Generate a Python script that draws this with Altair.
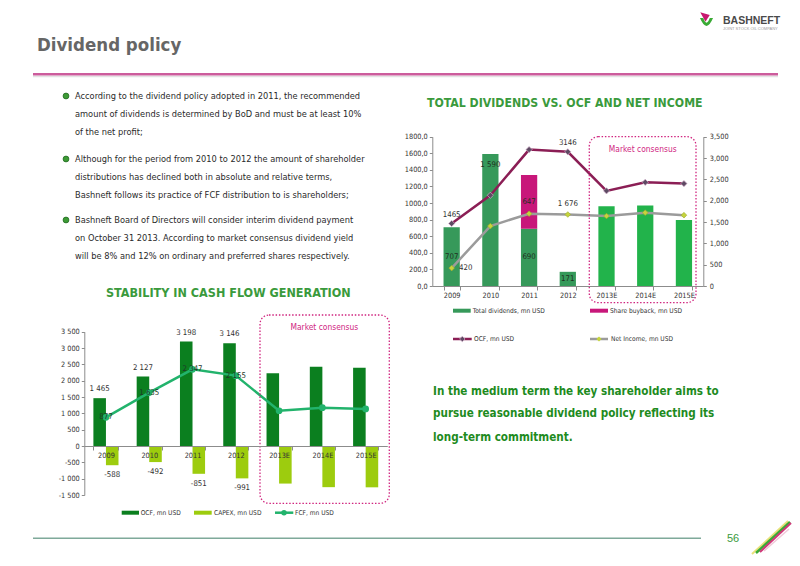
import altair as alt
import pandas as pd

# ---------------- data ----------------
years = ['2009', '2010', '2011', '2012', '2013E', '2014E', '2015E']
is_estimate = [False, False, False, False, True, True, True]

# Top chart: total dividends vs OCF and net income
total_dividends = [707, 1590, 690, 171, 960, 970, 795]
share_buyback = [0, 0, 647, 0, 0, 0, 0]
ocf_top = [1465, 2127, 3198, 3146, 2230, 2430, 2400]
net_income = [420, 1405, 1695, 1676, 1640, 1720, 1660]
div_labels = ['707', '1 590', '690', '171', '', '', '']
buy_labels = ['', '', '647', '', '', '', '']
ocf_top_labels = ['1465', '', '', '3146', '', '', '']
ni_labels = ['420', '', '', '1 676', '', '', '']

# Bottom chart: stability in cash flow generation
ocf = [1465, 2127, 3198, 3146, 2230, 2430, 2400]
capex = [-588, -492, -851, -991, -1150, -1260, -1265]
fcf = [877, 1635, 2347, 2155, 1080, 1175, 1135]
ocf_labels = ['1 465', '2 127', '3 198', '3 146', '', '', '']
capex_labels = ['-588', '-492', '-851', '-991', '', '', '']
fcf_labels = ['877', '1 635', '2 347', '2 155', '', '', '']

bullets = [
    ['According to the dividend policy adopted in 2011,  the recommended',
     'amount of dividends is determined by BoD and must be at least 10%',
     'of the net profit;'],
    ['Although for the period from 2010 to 2012 the amount of shareholder',
     'distributions has declined both in absolute and relative terms,',
     'Bashneft follows its practice of FCF distribution  to is shareholders;'],
    ['Bashneft Board of Directors will consider interim dividend payment',
     'on October 31 2013. According to market consensus dividend yield',
     'will be 8% and 12% on ordinary and preferred shares respectively.'],
]
conclusion = ['In the medium term the key shareholder aims to',
              'pursue reasonable dividend policy reflecting its',
              'long-term commitment.']

# ---------------- layout helpers ----------------
W, H = 784, 550
NARROW = 'Liberation Sans Narrow, Arial Narrow, DejaVu Sans Condensed, sans-serif'
GREEN_T = '#3a9a3c'
MAGENTA = '#d0257f'


def P(v):
    return v - 8


dummy = pd.DataFrame({'k': [0]})


def text_at(s, x, y, size=8, color='#333333', weight='normal', align='left',
            font=NARROW, baseline='middle'):
    return alt.Chart(dummy).mark_text(
        text=s, font=font, fontSize=size, fontWeight=weight, color=color,
        align=align, baseline=baseline
    ).encode(x=alt.value(P(x)), y=alt.value(P(y)))


def rule(x1, y1, x2, y2, color, width=1.0, **kw):
    return alt.Chart(dummy).mark_rule(color=color, strokeWidth=width, **kw).encode(
        x=alt.value(P(x1)), y=alt.value(P(y1)), x2=alt.value(P(x2)), y2=alt.value(P(y2)))


def rect(x1, y1, x2, y2, **kw):
    return alt.Chart(dummy).mark_rect(**kw).encode(
        x=alt.value(P(x1)), y=alt.value(P(y1)), x2=alt.value(P(x2)), y2=alt.value(P(y2)))


def pt(x, y, shape, size, fill, stroke=None, sw=0.0):
    kw = dict(shape=shape, size=size, fill=fill, filled=True, opacity=1)
    if stroke:
        kw.update(stroke=stroke, strokeWidth=sw)
    return alt.Chart(dummy).mark_point(**kw).encode(x=alt.value(P(x)), y=alt.value(P(y)))


AX = dict(domainColor='#8c8c8c', tickColor='#8c8c8c', labelColor='#333333',
          labelFont=NARROW, labelFontSize=7.3, title=None, grid=False)

# ---------------- scales ----------------
TX = alt.Scale(type='band', domain=years, range=[P(432.3), P(703.3)],
               paddingInner=0.58, paddingOuter=0.29)
TYL = alt.Scale(domain=[0, 1800], range=[P(286), P(136.7)], nice=False)
TYR = alt.Scale(domain=[0, 3500], range=[P(286), P(136.7)], nice=False)
BX = alt.Scale(type='band', domain=years, range=[P(84.3), P(387.3)],
               paddingInner=0.42, paddingOuter=0.21)
BY = alt.Scale(domain=[-1500, 3500], range=[P(495), P(331.7)], nice=False)

layers = []

# ---------------- page furniture ----------------
layers.append(text_at('Dividend policy', 37, 45, size=18.5, color='#666666', weight='bold'))
layers.append(rule(33, 76.5, 778, 76.5, '#e2e2e2', 1.5))
layers.append(rule(33, 74.3, 778, 74.3, '#cc5c9c', 2.5))
# logo
layers.append(pt(705, 17, 'M -1 -1 L 1 -0.4 L 0.1 1 Z', 90, '#c8186e'))
layers.append(pt(706.5, 22, 'M -1 -0.6 Q 0 1.8 1 -0.6 L 0.5 -0.6 Q 0 0.8 -0.5 -0.6 Z', 170, '#3aaa35'))
layers.append(text_at('BASHNEFT', 723, 20.5, size=10.5, color='#4a4a4a', weight='bold',
                      font='Liberation Sans, Arial, sans-serif'))
layers.append(text_at('JOINT STOCK OIL COMPANY', 723, 29, size=4, color='#9a9a9a',
                      font='Liberation Sans, Arial, sans-serif'))
# footer
layers.append(rule(33, 538.3, 701, 538.3, '#7fa99a', 1.5))
layers.append(text_at('56', 733, 539, size=11, color='#3a9a3c', align='center',
                      font='Liberation Sans, Arial, sans-serif'))
layers.append(rule(752, 554, 788, 521, '#e9e27a', 2))
layers.append(rule(756, 553, 790, 522, '#3aaa35', 2.5))
layers.append(rule(760, 552, 791, 523, '#d0387a', 2))
layers.append(rule(764, 551, 789, 529, '#f0c8d8', 1.5))

# bullets
by = [[96, 114, 132], [159, 177, 195], [220, 238, 256]]
for block, ys in zip(bullets, by):
    layers.append(pt(66, ys[0], 'circle', 34, '#3d9b35', '#1f6a1f', 0.8))
    for line, yy in zip(block, ys):
        layers.append(text_at(line, 75, yy, size=9.2, color='#2a2a2a'))

# conclusion
for line, yy in zip(conclusion, [391.7, 414.3, 438.3]):
    layers.append(text_at(line, 433, yy, size=11.6, color='#1e8b1e', weight='bold'))

# chart titles
layers.append(text_at('TOTAL DIVIDENDS VS. OCF AND NET INCOME', 427, 103, size=12.2,
                      color=GREEN_T, weight='bold'))
layers.append(text_at('STABILITY IN CASH FLOW GENERATION', 106, 293, size=12.5,
                      color=GREEN_T, weight='bold'))

# ---------------- top chart ----------------
rows = []
for y, d, b, e in zip(years, total_dividends, share_buyback, is_estimate):
    rows.append({'year': y, 'lo': 0, 'hi': d, 'cat': 'est' if e else 'hist', 'ord': 0})
    if b > 0:
        rows.append({'year': y, 'lo': d, 'hi': d + b, 'cat': 'buy', 'ord': 1})
df_topbars = pd.DataFrame(rows)

top_bars = alt.Chart(df_topbars).mark_bar().encode(
    x=alt.X('year:N', scale=TX, axis=alt.Axis(orient='bottom', offset=P(286) - H, tickBand='extent',
                                              tickSize=4, labelPadding=1, labelAngle=0, zindex=1, **AX)),
    y=alt.Y('lo:Q', scale=TYL, axis=alt.Axis(orient='left', offset=-P(432.3),
                                             values=list(range(0, 1801, 200)), tickSize=3, labelPadding=2,
                                             labelExpr="replace(format(datum.value, '.1f'), '.', ',')", **AX)),
    y2='hi:Q',
    color=alt.Color('cat:N', scale=alt.Scale(domain=['hist', 'est', 'buy'],
                                             range=['#36995a', '#22b34b', '#c8177a']), legend=None),
)
layers.append(top_bars)

df_toplab = pd.DataFrame({'year': years, 'div': total_dividends, 'buy': share_buyback,
                          'dl': div_labels, 'bl': buy_labels})
df_toplab['dmid'] = df_toplab['div'] / 2
df_toplab['bmid'] = df_toplab['div'] + df_toplab['buy'] / 2
mid_div = df_toplab[(df_toplab['dl'] != '') & (df_toplab['year'] != '2010')]
end_div = df_toplab[df_toplab['year'] == '2010']
buy_lab = df_toplab[df_toplab['bl'] != '']

LBL = dict(font=NARROW, fontSize=7.8, color='#1f2f1f')
layers.append(alt.Chart(mid_div).mark_text(**LBL).encode(
    x=alt.X('year:N', scale=TX, axis=None), y=alt.Y('dmid:Q', scale=TYL, axis=None), text='dl:N'))
layers.append(alt.Chart(end_div).mark_text(dy=11, **LBL).encode(
    x=alt.X('year:N', scale=TX, axis=None), y=alt.Y('div:Q', scale=TYL, axis=None), text='dl:N'))
layers.append(alt.Chart(buy_lab).mark_text(**LBL).encode(
    x=alt.X('year:N', scale=TX, axis=None), y=alt.Y('bmid:Q', scale=TYL, axis=None), text='bl:N'))

df_toplines = pd.DataFrame({'year': years, 'ocf': ocf_top, 'ni': net_income,
                            'ol': ocf_top_labels, 'nl': ni_labels})
layers.append(alt.Chart(df_toplines).mark_line(color='#9b9b9b', strokeWidth=2.5).encode(
    x=alt.X('year:N', scale=TX, axis=None), y=alt.Y('ni:Q', scale=TYR, axis=None)))
layers.append(alt.Chart(df_toplines).mark_point(shape='diamond', filled=True, size=32, fill='#c5d43c',
                                                stroke='#9aa82a', strokeWidth=0.6, opacity=1).encode(
    x=alt.X('year:N', scale=TX, axis=None), y=alt.Y('ni:Q', scale=TYR, axis=None)))
layers.append(alt.Chart(df_toplines).mark_line(color='#8b1e55', strokeWidth=2.5).encode(
    x=alt.X('year:N', scale=TX, axis=None),
    y=alt.Y('ocf:Q', scale=TYR, axis=alt.Axis(orient='right', offset=P(703.3) - W,
                                              values=list(range(0, 3501, 500)), tickSize=3,
                                              labelPadding=3, **AX))))
layers.append(alt.Chart(df_toplines).mark_point(shape='diamond', filled=True, size=38, fill='#5e4a63',
                                                stroke='#d2b0cc', strokeWidth=0.7, opacity=1).encode(
    x=alt.X('year:N', scale=TX, axis=None), y=alt.Y('ocf:Q', scale=TYR, axis=None)))
LBL2 = dict(font=NARROW, fontSize=7.8, color='#333333')
layers.append(alt.Chart(df_toplines[df_toplines['ol'] != '']).mark_text(dy=-9, **LBL2).encode(
    x=alt.X('year:N', scale=TX, axis=None), y=alt.Y('ocf:Q', scale=TYR, axis=None), text='ol:N'))
layers.append(alt.Chart(df_toplines[df_toplines['year'] == '2012']).mark_text(dy=-11, **LBL2).encode(
    x=alt.X('year:N', scale=TX, axis=None), y=alt.Y('ni:Q', scale=TYR, axis=None), text='nl:N'))
layers.append(alt.Chart(df_toplines[df_toplines['year'] == '2009']).mark_text(dx=14, **LBL2).encode(
    x=alt.X('year:N', scale=TX, axis=None), y=alt.Y('ni:Q', scale=TYR, axis=None), text='nl:N'))

# top consensus box + legend
layers.append(rect(589.3, 136.7, 696, 302.7, fillOpacity=0, stroke=MAGENTA, strokeWidth=1.3,
                   strokeDash=[1.5, 1.8], cornerRadius=9))
layers.append(text_at('Market consensus', 642.7, 149.3, size=8.4, color=MAGENTA, align='center'))
layers.append(rect(453, 308.7, 470.7, 312.7, color='#36995a'))
layers.append(text_at('Total  dividends, mn USD', 472.7, 310.7, size=6.6))
layers.append(rect(590, 308.7, 608, 312.7, color='#c8177a'))
layers.append(text_at('Share buyback, mn USD', 610, 310.7, size=6.6))
layers.append(rule(453, 339, 471.7, 339, '#8b1e55', 2.5))
layers.append(pt(462.3, 339, 'diamond', 30, '#5e4a63', '#d2b0cc', 0.7))
layers.append(text_at('OCF, mn USD', 474, 339, size=6.6))
layers.append(rule(590, 339, 608, 339, '#9b9b9b', 2.5))
layers.append(pt(599, 339, 'diamond', 26, '#c5d43c'))
layers.append(text_at('Net Income, mn USD', 611, 339, size=6.6))

# ---------------- bottom chart ----------------
df_bot = pd.DataFrame({'year': years * 2, 'series': ['OCF'] * 7 + ['CAPEX'] * 7,
                       'value': ocf + capex})
bot_bars = alt.Chart(df_bot).mark_bar().encode(
    x=alt.X('year:N', scale=BX, axis=alt.Axis(orient='bottom', offset=P(446) - H, tickBand='extent',
                                              tickSize=4, labelPadding=1, labelAngle=0, zindex=1, **AX)),
    xOffset=alt.XOffset('series:N', scale=alt.Scale(domain=['OCF', 'CAPEX'], paddingInner=0, paddingOuter=0)),
    y=alt.Y('value:Q', stack=None, scale=BY,
            axis=alt.Axis(orient='left', offset=-P(84.3), values=list(range(-1500, 3501, 500)),
                          tickSize=3, labelPadding=2,
                          labelExpr="(datum.value < 0 ? '-' : '') + replace(format(abs(datum.value), ','), ',', ' ')",
                          **AX)),
    color=alt.Color('series:N', scale=alt.Scale(domain=['OCF', 'CAPEX'], range=['#0b7f1f', '#9dcc0e']),
                    legend=None),
)
layers.append(bot_bars)

df_botl = pd.DataFrame({'year': years, 'ocf': ocf, 'capex': capex, 'fcf': fcf,
                        'ol': ocf_labels, 'cl': capex_labels, 'fl': fcf_labels})
layers.append(alt.Chart(df_botl).mark_line(color='#22b36c', strokeWidth=2.5).encode(
    x=alt.X('year:N', scale=BX, axis=None), y=alt.Y('fcf:Q', scale=BY, axis=None)))
layers.append(alt.Chart(df_botl).mark_point(shape='circle', filled=True, size=45, color='#22b36c',
                                            opacity=1).encode(
    x=alt.X('year:N', scale=BX, axis=None), y=alt.Y('fcf:Q', scale=BY, axis=None)))
lab = df_botl[df_botl['ol'] != '']
layers.append(alt.Chart(lab).mark_text(dx=-6.3, dy=-9, **LBL2).encode(
    x=alt.X('year:N', scale=BX, axis=None), y=alt.Y('ocf:Q', scale=BY, axis=None), text='ol:N'))
layers.append(alt.Chart(lab).mark_text(dx=6.3, dy=10, **LBL2).encode(
    x=alt.X('year:N', scale=BX, axis=None), y=alt.Y('capex:Q', scale=BY, axis=None), text='cl:N'))
layers.append(alt.Chart(lab).mark_text(font=NARROW, fontSize=7.8, color='#1f3a2a').encode(
    x=alt.X('year:N', scale=BX, axis=None), y=alt.Y('fcf:Q', scale=BY, axis=None), text='fl:N'))

layers.append(rect(260, 315, 389.3, 503.3, fillOpacity=0, stroke=MAGENTA, strokeWidth=1.3,
                   strokeDash=[1.5, 1.8], cornerRadius=9))
layers.append(text_at('Market consensus', 324.3, 327.3, size=8.4, color=MAGENTA, align='center'))
layers.append(rect(121.7, 510.7, 139, 514.7, color='#0b7f1f'))
layers.append(text_at('OCF, mn USD', 140.7, 512.7, size=6.6))
layers.append(rect(194, 510.7, 211.7, 514.7, color='#9dcc0e'))
layers.append(text_at('CAPEX, mn USD', 214, 512.7, size=6.6))
layers.append(rule(275, 512.7, 293.3, 512.7, '#22b36c', 2.5))
layers.append(pt(284, 512.7, 'circle', 30, '#22b36c'))
layers.append(text_at('FCF, mn USD', 295, 512.7, size=6.6))

chart = alt.layer(*layers).resolve_scale(
    x='independent', y='independent', color='independent'
).resolve_axis(
    x='independent', y='independent'
).properties(
    width=W, height=H, padding=0, autosize=alt.AutoSizeParams(type='none'), background='white'
).configure_view(strokeWidth=0)

chart.save('out.html', embed_options={'renderer': 'svg', 'actions': False})
